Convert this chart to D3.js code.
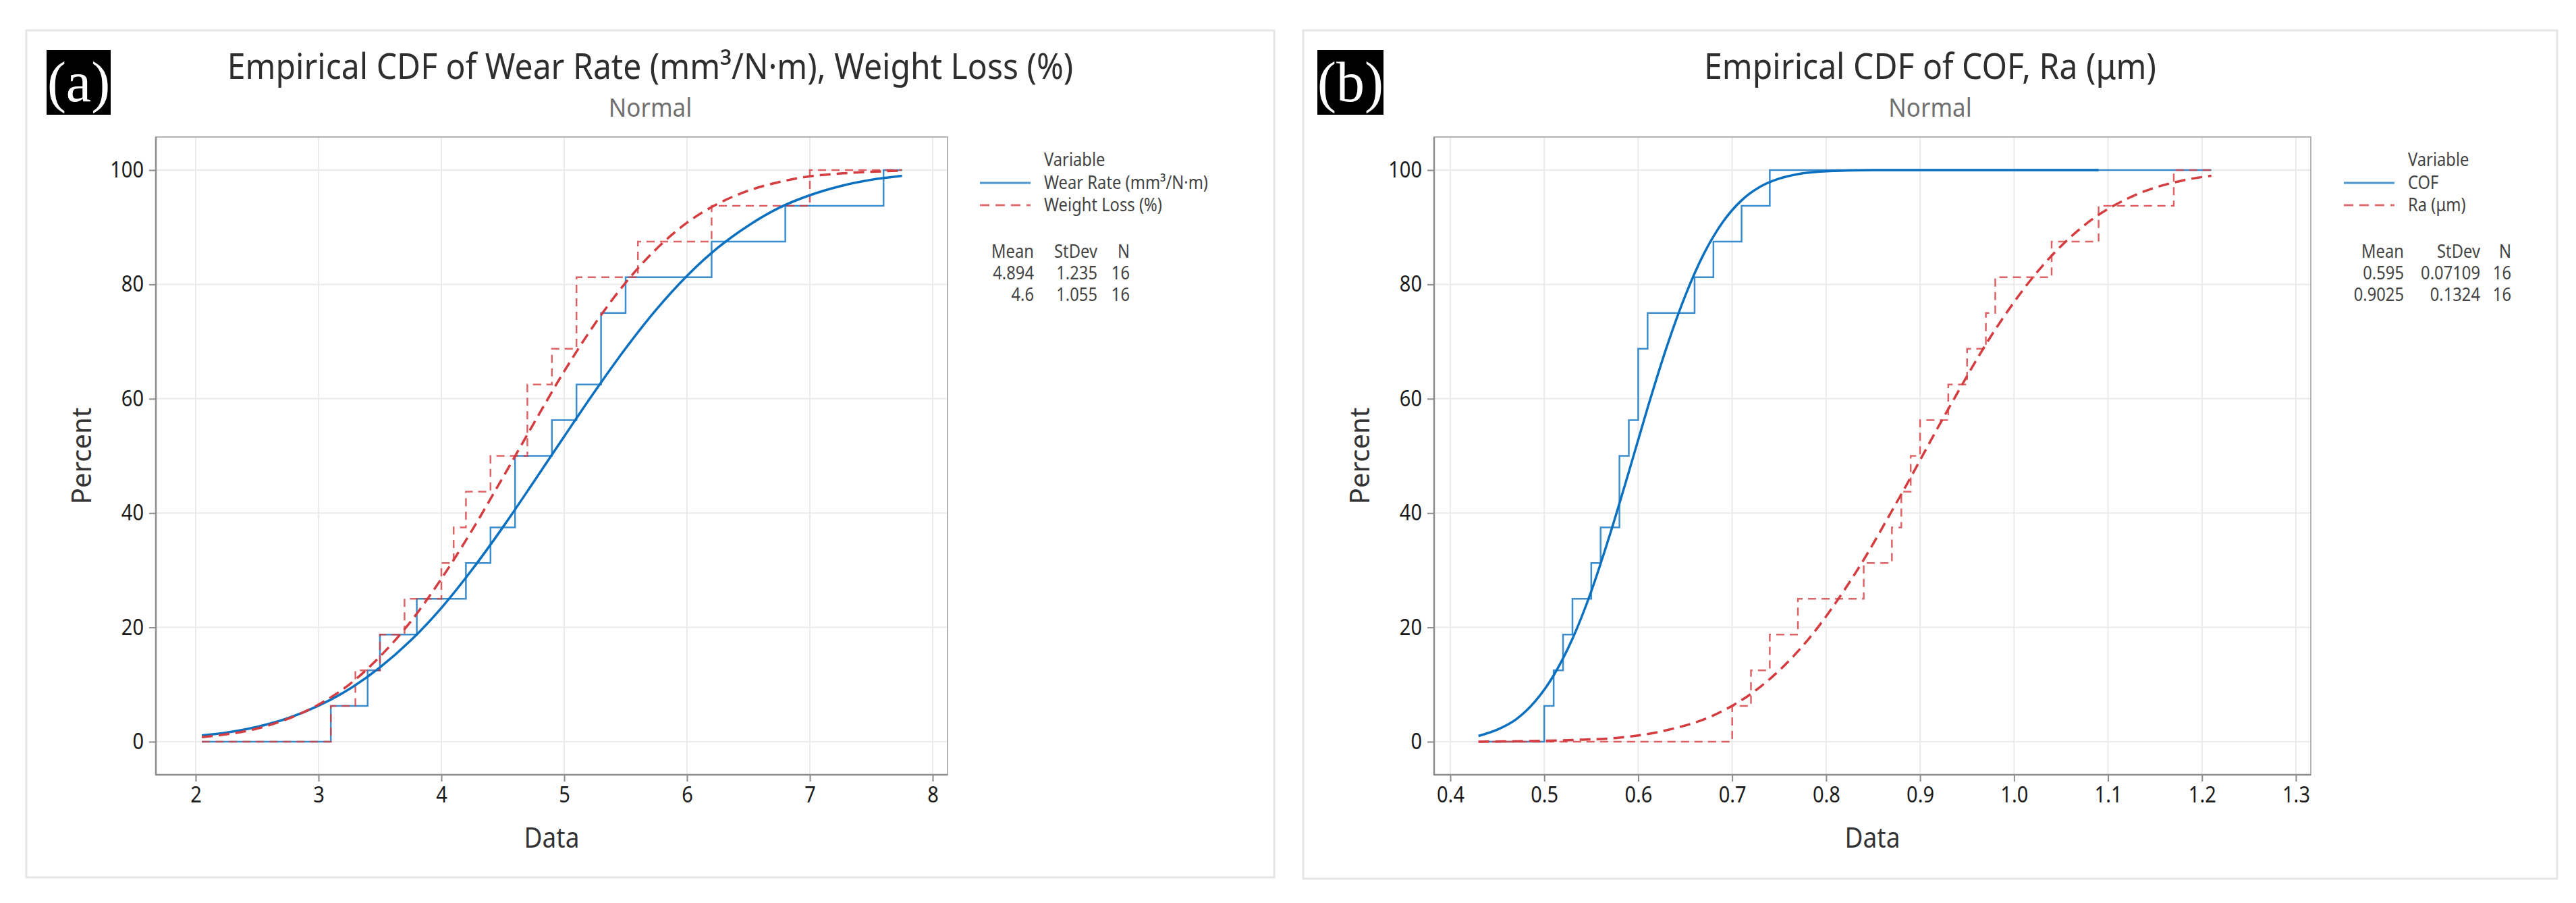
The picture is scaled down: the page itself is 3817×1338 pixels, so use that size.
<!DOCTYPE html>
<html>
<head>
<meta charset="utf-8">
<script src="https://cdn.jsdelivr.net/npm/d3@7"></script>
<style>
  body { margin: 0; background: #fff; }
  text { font-family: "Noto Sans", "Open Sans", sans-serif; }
</style>
</head>
<body>
<div id="chart"></div>
<script>
//size of the whole picture
var width = 3817,
  height = 1338;

//raw samples (16 each)
var wearRate = [3.1, 3.4, 3.5, 3.8, 4.2, 4.4, 4.6, 4.6, 4.9, 5.1, 5.3, 5.3, 5.5, 6.2, 6.8, 7.6];
var weightLoss = [3.1, 3.3, 3.5, 3.7, 4.0, 4.1, 4.2, 4.4, 4.7, 4.7, 4.9, 5.1, 5.1, 5.6, 6.2, 7.0];
var cof = [0.50, 0.51, 0.52, 0.53, 0.55, 0.56, 0.58, 0.58, 0.59, 0.60, 0.60, 0.61, 0.66, 0.68, 0.71, 0.74];
var ra = [0.70, 0.72, 0.74, 0.77, 0.84, 0.87, 0.88, 0.89, 0.90, 0.93, 0.95, 0.97, 0.98, 1.04, 1.09, 1.17];

//x extent the steps and fitted lines are drawn over
var rangeA = [2.05, 7.75];
var rangeB = [0.43, 1.21];

//fitted normal lines [data, percent]
var wearFit = [[2.05, 1.1], [2.25, 1.6], [2.5, 2.6], [2.75, 4.1], [3.0, 6.3], [3.25, 9.2], [3.5, 13.0],
  [3.75, 17.7], [4.0, 23.4], [4.25, 30.1], [4.5, 37.5], [4.75, 45.4], [5.0, 53.4], [5.25, 61.3],
  [5.5, 68.8], [5.75, 75.6], [6.0, 81.5], [6.25, 86.4], [6.5, 90.3], [6.75, 93.4], [7.0, 95.6],
  [7.25, 97.2], [7.5, 98.3], [7.75, 99.0]];
var weightFit = [[2.05, 0.8], [2.25, 1.3], [2.5, 2.3], [2.75, 4.0], [3.0, 6.5], [3.25, 10.0], [3.5, 14.9],
  [3.75, 21.0], [4.0, 28.5], [4.25, 37.0], [4.5, 46.2], [4.75, 55.6], [5.0, 64.8], [5.25, 73.1],
  [5.5, 80.3], [5.75, 86.2], [6.0, 90.8], [6.25, 94.1], [6.5, 96.4], [6.75, 97.9], [7.0, 98.9],
  [7.25, 99.4], [7.5, 99.7], [7.75, 99.9]];
var cofFit = [[0.43, 1.0], [0.45, 2.1], [0.47, 3.9], [0.49, 7.0], [0.51, 11.6], [0.53, 18.0], [0.55, 26.3],
  [0.57, 36.3], [0.59, 47.2], [0.61, 58.4], [0.63, 68.9], [0.65, 78.0], [0.67, 85.4], [0.69, 90.9],
  [0.71, 94.7], [0.73, 97.1], [0.75, 98.5], [0.77, 99.3], [0.80, 99.8], [0.85, 100], [0.95, 100],
  [1.09, 100]];
var raFit = [[0.43, 0.0], [0.48, 0.1], [0.53, 0.3], [0.58, 0.7], [0.63, 2.0], [0.68, 4.6], [0.73, 9.6],
  [0.78, 17.7], [0.83, 29.2], [0.88, 43.3], [0.93, 58.2], [0.98, 72.1], [1.03, 83.2], [1.08, 91.0],
  [1.13, 95.7], [1.18, 98.2], [1.21, 99.0]];

//legend table values: mean, stdev, n
var wearStats = ["4.894", "1.235", "16"];
var weightStats = ["4.6", "1.055", "16"];
var cofStats = ["0.595", "0.07109", "16"];
var raStats = ["0.9025", "0.1324", "16"];

//tick labels
var ticksA = [2, 3, 4, 5, 6, 7, 8];
var ticksB = [0.4, 0.5, 0.6, 0.7, 0.8, 0.9, 1.0, 1.1, 1.2, 1.3];
var pctTicks = [0, 20, 40, 60, 80, 100];

var blue = "#0b70c0",
  red = "#d43c40";

var svg = d3
  .select("#chart")
  .append("svg")
  .attr("width", width)
  .attr("height", height);

//horizontal squeeze that makes the sans text look like the narrow original
var squeeze = 0.88;

function label(g, x, y, str, size, anchor, fill, sx) {
  return g
    .append("text")
    .attr("transform", "translate(" + x + "," + y + ") scale(" + (sx || squeeze) + ",1)")
    .attr("font-size", size)
    .attr("text-anchor", anchor)
    .attr("fill", fill)
    .text(str);
}

//turns samples into step points for the empirical cdf
function ecdfPoints(values, range) {
  var sorted = values.slice().sort(d3.ascending);
  var counts = d3.rollups(sorted, v => v.length, d => d);
  var pts = [[range[0], 0]];
  var cum = 0;
  counts.forEach(function(c) {
    cum += c[1];
    pts.push([c[0], (cum / sorted.length) * 100]);
  });
  pts.push([range[1], 100]);
  return pts;
}

var panels = [
  {
    frame: [39, 45, 1888, 1300],
    plot: [231, 203, 1404, 1148],
    ticks: ticksA,
    tickPx: [290, 1382],
    fmt: d3.format("d"),
    title: "Empirical CDF of Wear Rate (mm\u00b3/N\u00b7m), Weight Loss (%)",
    tag: "(a)",
    tagBox: [69, 74, 95, 96],
    range: rangeA,
    legendX: 1452,
    statCols: [1532, 1626, 1674],
    series: [
      { name: "Wear Rate (mm\u00b3/N\u00b7m)", values: wearRate, fit: wearFit, stats: wearStats, color: blue, dash: null },
      { name: "Weight Loss (%)", values: weightLoss, fit: weightFit, stats: weightStats, color: red, dash: true }
    ]
  },
  {
    frame: [1931, 45, 3789, 1302],
    plot: [2125, 203, 3424, 1148],
    ticks: ticksB,
    tickPx: [2149, 3402],
    fmt: d3.format(".1f"),
    title: "Empirical CDF of COF, Ra (\u03bcm)",
    tag: "(b)",
    tagBox: [1952, 74, 98, 96],
    range: rangeB,
    legendX: 3473,
    statCols: [3562, 3675, 3721],
    series: [
      { name: "COF", values: cof, fit: cofFit, stats: cofStats, color: blue, dash: null },
      { name: "Ra (\u03bcm)", values: ra, fit: raFit, stats: raStats, color: red, dash: true }
    ]
  }
];

panels.forEach(drawPanel);

function drawPanel(p) {
  var g = svg.append("g");
  var left = p.plot[0],
    top = p.plot[1],
    right = p.plot[2],
    bottom = p.plot[3];

  var x = d3
    .scaleLinear()
    .domain([p.ticks[0], p.ticks[p.ticks.length - 1]])
    .range(p.tickPx);
  var y = d3
    .scaleLinear()
    .domain([0, 100])
    .range([1099, 252]);

  //light border round the panel
  g.append("rect")
    .attr("x", p.frame[0])
    .attr("y", p.frame[1])
    .attr("width", p.frame[2] - p.frame[0])
    .attr("height", p.frame[3] - p.frame[1])
    .attr("fill", "none")
    .attr("stroke", "#e6e6e6")
    .attr("stroke-width", 3);

  //black tag box with (a)/(b)
  g.append("rect")
    .attr("x", p.tagBox[0])
    .attr("y", p.tagBox[1])
    .attr("width", p.tagBox[2])
    .attr("height", p.tagBox[3])
    .attr("fill", "#000");
  g.append("text")
    .attr("x", p.tagBox[0] + p.tagBox[2] / 2)
    .attr("y", p.tagBox[1] + 76)
    .attr("text-anchor", "middle")
    .style("font-family", "'Liberation Serif', 'DejaVu Serif', serif")
    .attr("font-size", 84)
    .attr("fill", "#fff")
    .text(p.tag);

  //titles
  var cx = (p.frame[0] + p.frame[2]) / 2;
  label(g, cx, 117, p.title, 52, "middle", "#2e2e2e", 0.925);
  label(g, cx, 173, "Normal", 38, "middle", "#707070", 0.92);

  //gridlines
  g.selectAll(".vgrid")
    .data(p.ticks)
    .enter()
    .append("line")
    .attr("x1", d => x(d))
    .attr("x2", d => x(d))
    .attr("y1", top)
    .attr("y2", bottom)
    .attr("stroke", "#ebebeb")
    .attr("stroke-width", 2);
  g.selectAll(".hgrid")
    .data(pctTicks)
    .enter()
    .append("line")
    .attr("x1", left)
    .attr("x2", right)
    .attr("y1", d => y(d))
    .attr("y2", d => y(d))
    .attr("stroke", "#ebebeb")
    .attr("stroke-width", 2);

  //plot box
  g.append("rect")
    .attr("x", left)
    .attr("y", top)
    .attr("width", right - left)
    .attr("height", bottom - top)
    .attr("fill", "none")
    .attr("stroke", "#b4b4b4")
    .attr("stroke-width", 2);

  //axes
  var xAxis = g
    .append("g")
    .attr("transform", "translate(0," + bottom + ")")
    .call(d3.axisBottom(x).tickValues(p.ticks).tickFormat(p.fmt).tickSize(10).tickPadding(8));
  var yAxis = g
    .append("g")
    .attr("transform", "translate(" + left + ",0)")
    .call(d3.axisLeft(y).tickValues(pctTicks).tickSize(10).tickPadding(8));
  [xAxis, yAxis].forEach(function(a) {
    a.select(".domain").remove();
    a.selectAll(".tick line").attr("stroke", "#8c8c8c").attr("stroke-width", 2);
    a.selectAll(".tick text")
      .attr("font-size", 33)
      .attr("fill", "#1a1a1a");
  });
  xAxis.selectAll(".tick text").attr("transform", "scale(" + squeeze + ",1)");
  yAxis.selectAll(".tick text").attr("transform", "scale(" + squeeze + ",1)").attr("x", -18 / squeeze);

  //darker left and bottom axis lines
  g.append("line")
    .attr("x1", left).attr("x2", left)
    .attr("y1", top).attr("y2", bottom + 1)
    .attr("stroke", "#8c8c8c").attr("stroke-width", 2.5);
  g.append("line")
    .attr("x1", left).attr("x2", right)
    .attr("y1", bottom).attr("y2", bottom)
    .attr("stroke", "#8c8c8c").attr("stroke-width", 2.5);

  //axis titles
  label(g, (left + right) / 2, 1256, "Data", 42, "middle", "#333");
  g.append("text")
    .attr("transform", "translate(" + (left - 96) + "," + (top + bottom) / 2 + ") rotate(-90)")
    .attr("font-size", 40)
    .attr("text-anchor", "middle")
    .attr("fill", "#333")
    .text("Percent");

  var stepLine = d3
    .line()
    .x(d => x(d[0]))
    .y(d => y(d[1]))
    .curve(d3.curveStepAfter);
  var fitLine = d3
    .line()
    .x(d => x(d[0]))
    .y(d => y(d[1]))
    .curve(d3.curveMonotoneX);

  //empirical steps
  p.series.forEach(function(s) {
    g.append("path")
      .attr("d", stepLine(ecdfPoints(s.values, p.range)))
      .attr("fill", "none")
      .attr("stroke", s.color)
      .attr("stroke-opacity", 0.8)
      .attr("stroke-width", 2.5)
      .attr("stroke-dasharray", s.dash ? "12,8" : null);
  });

  //fitted normal lines
  p.series.forEach(function(s) {
    g.append("path")
      .attr("d", fitLine(s.fit))
      .attr("fill", "none")
      .attr("stroke", s.color)
      .attr("stroke-width", 3.5)
      .attr("stroke-dasharray", s.dash ? "16,9" : null);
  });

  //legend
  var lx = p.legendX,
    tx = p.legendX + 95;
  label(g, tx, 246, "Variable", 27, "start", "#444");
  p.series.forEach(function(s, i) {
    var by = 280 + i * 33;
    g.append("line")
      .attr("x1", lx)
      .attr("x2", lx + 75)
      .attr("y1", by - 9)
      .attr("y2", by - 9)
      .attr("stroke", s.color)
      .attr("stroke-opacity", 0.75)
      .attr("stroke-width", 3)
      .attr("stroke-dasharray", s.dash ? "14,9" : null);
    label(g, tx, by, s.name, 27, "start", "#444");
  });

  //stats table
  var heads = ["Mean", "StDev", "N"];
  heads.forEach(function(h, j) {
    label(g, p.statCols[j], 382, h, 27, "end", "#444");
  });
  p.series.forEach(function(s, i) {
    s.stats.forEach(function(v, j) {
      label(g, p.statCols[j], 414 + i * 32, v, 27, "end", "#444");
    });
  });
}
</script>
</body>
</html>
